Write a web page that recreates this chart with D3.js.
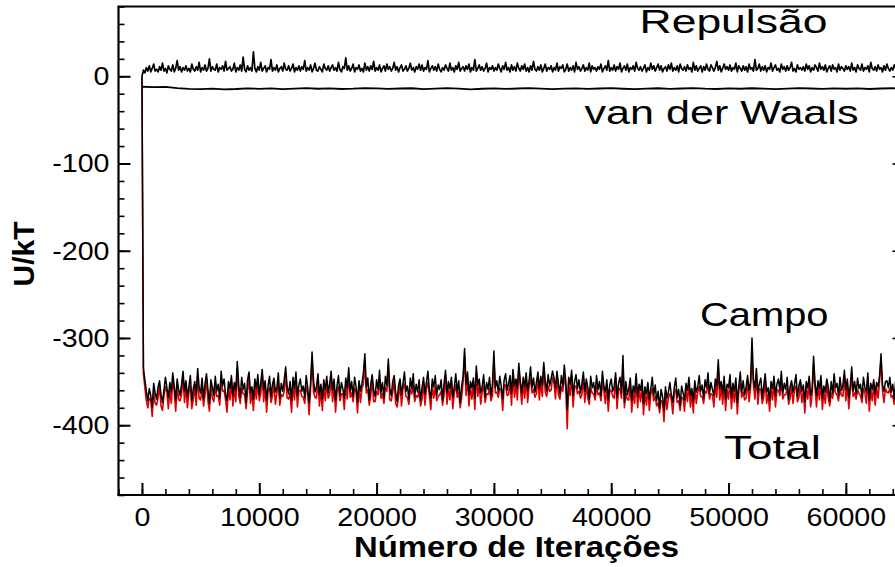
<!DOCTYPE html>
<html>
<head>
<meta charset="utf-8">
<script src="https://cdn.jsdelivr.net/npm/d3@7"></script>
<style>
  html, body { margin: 0; padding: 0; background: #fff; }
  svg { display: block; font-family: "Liberation Sans", Arial, Helvetica, sans-serif; }
</style>
</head>
<body>
<svg id="chart" width="895" height="567"></svg>
<script>
// ---------------- DATA ----------------
const iterStep = 125; // iterations between stored samples
const xMajorTicks = [0, 10000, 20000, 30000, 40000, 50000, 60000];
const yMajorTicks = [0, -100, -200, -300, -400];

const campo = [
  0,-335,-348,-361,-372,-358,-366,-379,-352,-363,
  -370,-356,-349,-365,-374,-360,-345,-357,-368,-351,
  -362,-340,-355,-371,-347,-359,-366,-353,-338,-361,
  -349,-367,-356,-343,-372,-358,-350,-364,-335,-357,
  -363,-346,-370,-352,-341,-359,-375,-348,-356,-366,
  -344,-361,-353,-369,-338,-355,-347,-364,-372,-350,
  -358,-343,-366,-351,-360,-327,-354,-368,-345,-359,
  -352,-374,-348,-339,-363,-356,-370,-347,-358,-342,
  -365,-351,-336,-360,-349,-371,-355,-344,-367,-353,
  -346,-362,-357,-340,-369,-352,-361,-348,-333,-356,
  -364,-350,-372,-345,-358,-339,-366,-354,-347,-361,
  -355,-368,-343,-357,-374,-351,-316,-349,-362,-356,
  -341,-365,-353,-370,-348,-359,-344,-363,-352,-338,
  -360,-347,-372,-355,-343,-366,-351,-358,-369,-346,
  -357,-334,-362,-350,-367,-345,-356,-373,-349,-361,
  -352,-340,-318,-357,-346,-371,-353,-342,-360,-367,
  -348,-359,-337,-363,-351,-369,-344,-355,-324,-358,
  -366,-350,-343,-362,-373,-354,-347,-365,-352,-339,
  -361,-355,-370,-346,-358,-341,-367,-353,-362,-348,
  -372,-357,-345,-364,-351,-338,-360,-369,-347,-356,
  -343,-366,-354,-359,-348,-371,-352,-337,-363,-350,
  -358,-345,-368,-356,-341,-362,-349,-374,-355,-344,
  -312,-353,-339,-365,-350,-357,-346,-369,-332,-354,
  -347,-363,-356,-342,-368,-351,-359,-345,-366,-353,
  -315,-357,-349,-362,-344,-355,-370,-348,-341,-360,
  -352,-343,-364,-336,-355,-347,-358,-329,-350,-363,
  -345,-356,-340,-361,-349,-333,-357,-346,-362,-351,
  -339,-358,-344,-354,-328,-349,-361,-342,-355,-347,
  -338,-346,-357,-338,-352,-364,-343,-355,-331,-349,
  -382,-345,-353,-337,-366,-350,-342,-358,-348,-363,
  -352,-339,-361,-347,-356,-370,-344,-357,-351,-365,
  -343,-359,-350,-366,-338,-355,-362,-348,-371,-354,
  -347,-361,-356,-340,-368,-352,-345,-363,-320,-374,
  -350,-365,-358,-346,-372,-355,-362,-341,-367,-353,
  -360,-348,-375,-356,-364,-351,-370,-358,-345,-366,
  -354,-372,-361,-380,-359,-367,-383,-356,-369,-362,
  -351,-365,-374,-357,-346,-368,-359,-377,-355,-363,
  -371,-352,-360,-345,-366,-358,-373,-349,-362,-356,
  -343,-361,-354,-369,-348,-357,-340,-364,-351,-359,
  -366,-347,-355,-325,-358,-350,-363,-344,-370,-353,
  -357,-342,-368,-352,-361,-346,-374,-355,-339,-362,
  -349,-365,-356,-343,-360,-351,-300,-348,-357,-335,
  -363,-352,-346,-369,-355,-341,-362,-357,-371,-350,
  -358,-344,-366,-353,-347,-360,-338,-364,-352,-359,
  -345,-370,-356,-349,-362,-353,-342,-367,-355,-348,
  -361,-354,-373,-350,-357,-344,-366,-359,-321,-352,
  -366,-349,-358,-343,-369,-355,-362,-347,-356,-372,
  -350,-363,-341,-357,-352,-366,-345,-360,-354,-337,
  -359,-347,-368,-355,-333,-361,-350,-364,-346,-358,
  -353,-368,-345,-357,-362,-340,-371,-352,-359,-348,
  -364,-351,-356,-343,-318,-354,-361,-350,-349,-357,
  -345,-362,-353,-370,-348,-356,-341,-365,-352,-360
];

const total = [
  0,-341,-357,-372,-380,-369,-371,-390,-361,-375,
  -377,-368,-355,-378,-383,-366,-356,-362,-381,-360,
  -375,-349,-361,-384,-355,-371,-372,-365,-344,-374,
  -356,-380,-362,-355,-381,-370,-357,-377,-343,-369,
  -371,-358,-378,-365,-347,-372,-384,-355,-369,-373,
  -356,-367,-366,-377,-350,-361,-360,-371,-385,-356,
  -371,-349,-378,-357,-373,-335,-366,-375,-358,-364,
  -365,-381,-361,-346,-375,-362,-383,-354,-370,-349,
  -372,-364,-342,-373,-355,-385,-361,-357,-374,-366,
  -352,-376,-363,-353,-377,-365,-367,-361,-340,-369,
  -370,-363,-385,-351,-371,-346,-379,-360,-360,-367,
  -368,-375,-356,-363,-388,-357,-325,-362,-368,-369,
  -348,-378,-359,-383,-354,-372,-351,-369,-365,-345,
  -373,-353,-385,-361,-356,-372,-364,-364,-382,-352,
  -370,-341,-368,-363,-373,-358,-362,-386,-355,-374,
  -358,-353,-326,-363,-359,-377,-366,-348,-373,-373,
  -361,-365,-350,-369,-364,-375,-357,-361,-332,-371,
  -372,-363,-349,-375,-379,-367,-353,-378,-358,-352,
  -367,-368,-376,-359,-364,-354,-373,-366,-368,-361,
  -378,-370,-351,-377,-357,-351,-366,-382,-353,-369,
  -356,-372,-367,-365,-361,-377,-365,-343,-376,-356,
  -371,-351,-381,-362,-354,-368,-362,-380,-368,-350,
  -320,-366,-345,-378,-356,-370,-352,-382,-340,-367,
  -353,-376,-362,-355,-374,-364,-365,-358,-372,-366,
  -325,-363,-362,-368,-357,-361,-383,-354,-354,-366,
  -365,-349,-377,-342,-368,-353,-371,-335,-356,-376,
  -351,-369,-346,-374,-355,-346,-363,-359,-368,-364,
  -345,-371,-350,-367,-334,-362,-367,-355,-361,-360,
  -345,-352,-370,-344,-365,-370,-356,-361,-344,-355,
  -404,-351,-366,-343,-379,-356,-355,-364,-361,-369,
  -365,-345,-374,-353,-369,-376,-357,-363,-364,-371,
  -356,-365,-363,-372,-351,-361,-375,-354,-384,-360,
  -360,-367,-369,-346,-381,-358,-358,-369,-330,-380,
  -363,-371,-371,-352,-385,-361,-375,-347,-380,-359,
  -373,-354,-388,-362,-377,-357,-383,-364,-358,-372,
  -367,-378,-374,-386,-372,-373,-396,-362,-382,-368,
  -364,-371,-387,-363,-359,-374,-372,-383,-368,-369,
  -384,-358,-373,-351,-379,-364,-386,-355,-375,-362,
  -356,-367,-367,-375,-361,-363,-353,-370,-364,-365,
  -379,-353,-368,-334,-371,-356,-376,-350,-383,-359,
  -370,-348,-381,-358,-374,-352,-387,-361,-352,-368,
  -362,-371,-369,-349,-373,-357,-322,-354,-370,-341,
  -376,-358,-359,-375,-368,-347,-375,-363,-384,-356,
  -371,-350,-379,-359,-360,-366,-351,-370,-365,-365,
  -358,-376,-369,-355,-375,-359,-355,-373,-368,-354,
  -374,-360,-386,-356,-370,-350,-379,-365,-330,-358,
  -379,-355,-371,-349,-382,-361,-375,-353,-369,-378,
  -363,-369,-354,-363,-365,-372,-358,-366,-367,-343,
  -372,-353,-381,-361,-346,-367,-363,-370,-359,-364,
  -366,-374,-358,-363,-375,-346,-384,-358,-372,-354,
  -377,-357,-369,-349,-326,-360,-374,-358,-362,-363,
  -358,-368,-366,-376,-361,-362,-354,-371,-365,-366
];

const repulsao = [
  0,7,4,10,6,12,5,9,14,6,
  8,5,11,7,15,6,9,4,12,8,
  6,13,5,9,18,7,11,5,10,7,
  12,6,9,5,14,8,6,11,7,16,
  5,10,7,13,6,9,20,6,11,8,
  7,14,5,10,8,12,6,17,7,9,
  11,6,8,15,5,10,7,13,6,22,
  8,5,12,7,10,6,28,9,5,11,
  7,16,6,9,12,5,10,8,19,6,
  10,7,13,5,9,11,6,15,8,7,
  12,6,9,14,5,10,7,12,6,11,
  8,18,6,10,7,13,5,9,15,7,
  6,11,8,5,14,9,7,12,6,10,
  13,7,10,6,16,8,5,11,9,21,
  7,12,6,9,14,5,10,8,13,6,
  9,5,15,7,11,6,12,8,17,6,
  10,7,13,5,9,12,6,14,8,11,
  6,9,16,7,11,5,10,13,6,8,
  12,6,9,15,7,10,5,11,8,14,
  7,13,6,10,8,18,5,9,12,7,
  11,6,14,8,5,10,7,13,9,6,
  15,7,10,5,12,8,16,6,9,11,
  6,12,8,14,5,10,7,19,6,9,
  13,7,11,6,9,15,5,10,8,12,
  6,10,7,14,9,5,12,8,16,7,
  10,5,13,7,11,6,15,9,6,12,
  8,14,6,10,5,12,7,17,8,6,
  11,7,13,5,9,14,6,10,8,12,
  5,10,7,15,6,11,9,13,5,8,
  14,6,10,7,12,5,16,8,11,6,
  9,13,6,10,7,15,5,12,8,10,
  6,11,8,14,5,9,12,7,18,6,
  10,7,13,6,11,8,15,5,9,12,
  7,14,5,10,8,12,6,16,9,7,
  11,6,9,13,5,10,7,15,8,12,
  6,10,14,7,12,5,9,11,6,13,
  8,15,6,10,7,12,5,14,9,7,
  11,6,13,8,10,5,16,7,12,6,
  9,12,5,11,7,14,8,6,13,10,
  6,10,17,7,12,5,9,14,8,11,
  7,13,6,10,8,15,5,12,9,6,
  12,7,11,5,14,8,10,6,19,7,
  9,14,6,11,7,12,5,10,8,15,
  6,10,13,7,9,5,14,8,11,6,
  12,7,10,16,6,9,5,13,8,10,
  7,11,6,14,8,12,5,10,7,13,
  10,6,15,8,11,7,13,5,9,12,
  6,13,8,10,5,14,7,11,9,6,
  12,8,11,6,15,7,10,5,13,9,
  7,14,6,10,8,12,5,16,9,7,
  11,6,13,8,10,5,12,7,14,9,
  6,10,7,13,9,11,5,12,8,10
];

const vdwStep = 1000;
const vanDerWaals = [
  -12, -12.5, -12.2, -13.5, -14.5, -14.8, -14.2, -15, -14.6, -13.8,
  -14.4, -13.9, -14.7, -14.1, -13.6, -14.3, -13.8, -14.6, -14.2, -13.5,
  -13.9, -14.5, -14, -13.7, -14.8, -14.2, -13.6, -14.1, -14.9, -14.3,
  -13.8, -14.4, -14, -13.5, -14.2, -14.7, -14.1, -13.8, -14.5, -14,
  -13.6, -14.3, -14.8, -14.1, -13.7, -14.4, -14, -13.5, -14.2, -14.6,
  -13.9, -14.3, -13.7, -14.1, -14.8, -14.2, -13.6, -14, -14.5, -13.9,
  -14.3, -13.8, -14.6, -14, -13.7, -14.2
];

const seriesLabels = ["Repulsão", "van der Waals", "Campo", "Total"];
const xTitle = "Número de Iterações";
const yTitle = "U/kT";

// ---------------- CHART ----------------
const svg = d3.select("#chart");
svg.append("rect").attr("width", 895).attr("height", 567).attr("fill", "#fff");

const x = d3.scaleLinear().domain([-2000, 65000]).range([118.5, 904.5]);
const y = d3.scaleLinear().domain([-480, 80]).range([495, 6.5]);

const defs = svg.append("defs");
defs.append("clipPath").attr("id", "plotclip")
  .append("rect")
  .attr("x", x.range()[0]).attr("y", y.range()[1])
  .attr("width", x.range()[1] - x.range()[0])
  .attr("height", y.range()[0] - y.range()[1]);

const plot = svg.append("g").attr("clip-path", "url(#plotclip)");

const line = d3.line().x(d => x(d[0])).y(d => y(d[1]));
const pairs = (arr, step) => arr.map((v, i) => [i * step, v]);

plot.append("path").datum(pairs(total, iterStep))
  .attr("d", line).attr("fill", "none")
  .attr("stroke", "#dd0000").attr("stroke-width", 1.6).attr("stroke-linejoin", "round");
plot.append("path").datum(pairs(campo, iterStep))
  .attr("d", line).attr("fill", "none")
  .attr("stroke", "#000").attr("stroke-width", 1.5).attr("stroke-linejoin", "round");
plot.append("path").datum(pairs(repulsao, iterStep))
  .attr("d", line).attr("fill", "none")
  .attr("stroke", "#000").attr("stroke-width", 1.7).attr("stroke-linejoin", "round");
plot.append("path").datum(pairs(vanDerWaals, vdwStep))
  .attr("d", line).attr("fill", "none")
  .attr("stroke", "#000").attr("stroke-width", 1.8).attr("stroke-linejoin", "round");

// ---------------- AXES ----------------
const y0 = y.range()[0], y1 = y.range()[1];
const x0 = x.range()[0], x1 = x.range()[1];
const fmt = d => String(d); // plain hyphen-minus, as in the reference

function styleAxis(g) {
  g.select(".domain").remove();
  g.selectAll(".tick line").attr("stroke", "#000").attr("stroke-width", 1.6);
}

// bottom minor
svg.append("g").attr("transform", `translate(0,${y0})`)
  .call(d3.axisBottom(x).tickValues(d3.range(-2000, 65001, 2000)).tickSize(-6).tickFormat(""))
  .call(styleAxis);
// bottom major
const bx = svg.append("g").attr("transform", `translate(0,${y0})`)
  .call(d3.axisBottom(x).tickValues(xMajorTicks).tickSize(-12).tickPadding(12.5).tickFormat(fmt))
  .call(styleAxis);
bx.selectAll(".tick line").attr("stroke-width", 2);
bx.selectAll("text").attr("font-size", 26).attr("fill", "#000")
  .attr("font-family", "Liberation Sans, Arial, sans-serif");

// left minor
svg.append("g").attr("transform", `translate(${x0},0)`)
  .call(d3.axisLeft(y).tickValues(d3.range(-480, 81, 20)).tickSize(-6).tickFormat(""))
  .call(styleAxis);
// left major
const ly = svg.append("g").attr("transform", `translate(${x0},0)`)
  .call(d3.axisLeft(y).tickValues(yMajorTicks).tickSize(-12).tickPadding(9).tickFormat(fmt))
  .call(styleAxis);
ly.selectAll(".tick line").attr("stroke-width", 2);
ly.selectAll("text").attr("font-size", 26).attr("fill", "#000")
  .attr("font-family", "Liberation Sans, Arial, sans-serif");

// right axis (ticks inward)
svg.append("g").attr("transform", `translate(${x1},0)`)
  .call(d3.axisRight(y).tickValues(d3.range(-480, 81, 20)).tickSize(-6).tickFormat(""))
  .call(styleAxis);
svg.append("g").attr("transform", `translate(${x1},0)`)
  .call(d3.axisRight(y).tickValues(yMajorTicks).tickSize(-12).tickFormat(""))
  .call(styleAxis);

// stretch tick labels slightly (reference text is horizontally wide)
svg.selectAll(".tick text").each(function () {
  const w = this.getComputedTextLength();
  if (w > 0) d3.select(this).attr("textLength", w * 1.1).attr("lengthAdjust", "spacingAndGlyphs");
});

// frame lines
svg.append("line").attr("x1", x0).attr("x2", x0).attr("y1", y1).attr("y2", y0 + 1)
  .attr("stroke", "#000").attr("stroke-width", 2.2);
svg.append("line").attr("x1", x0 - 1).attr("x2", x1).attr("y1", y0).attr("y2", y0)
  .attr("stroke", "#000").attr("stroke-width", 2.2);
svg.append("line").attr("x1", x0 - 1).attr("x2", x1).attr("y1", y1).attr("y2", y1)
  .attr("stroke", "#000").attr("stroke-width", 2.2);
svg.append("line").attr("x1", x1).attr("x2", x1).attr("y1", y1).attr("y2", y0)
  .attr("stroke", "#000").attr("stroke-width", 2.2);

// ---------------- TITLES ----------------
svg.append("text")
  .attr("x", 516.5).attr("y", 557)
  .attr("text-anchor", "middle")
  .attr("font-size", 30).attr("font-weight", "bold")
  .attr("textLength", 325).attr("lengthAdjust", "spacingAndGlyphs")
  .text(xTitle);

svg.append("text")
  .attr("transform", "translate(33.5,254) rotate(-90)")
  .attr("text-anchor", "middle")
  .attr("font-size", 30).attr("font-weight", "bold")
  .text(yTitle);

// ---------------- SERIES LABELS ----------------
const labelPos = [
  { x: 639.5, y: 33,    len: 188 },
  { x: 584.5, y: 123.5, len: 274 },
  { x: 700,   y: 326,   len: 128.5 },
  { x: 724,   y: 459,   len: 97 }
];
seriesLabels.forEach((t, i) => {
  svg.append("text")
    .attr("x", labelPos[i].x).attr("y", labelPos[i].y)
    .attr("font-size", 33.5)
    .attr("textLength", labelPos[i].len).attr("lengthAdjust", "spacingAndGlyphs")
    .text(t);
});
</script>
</body>
</html>
